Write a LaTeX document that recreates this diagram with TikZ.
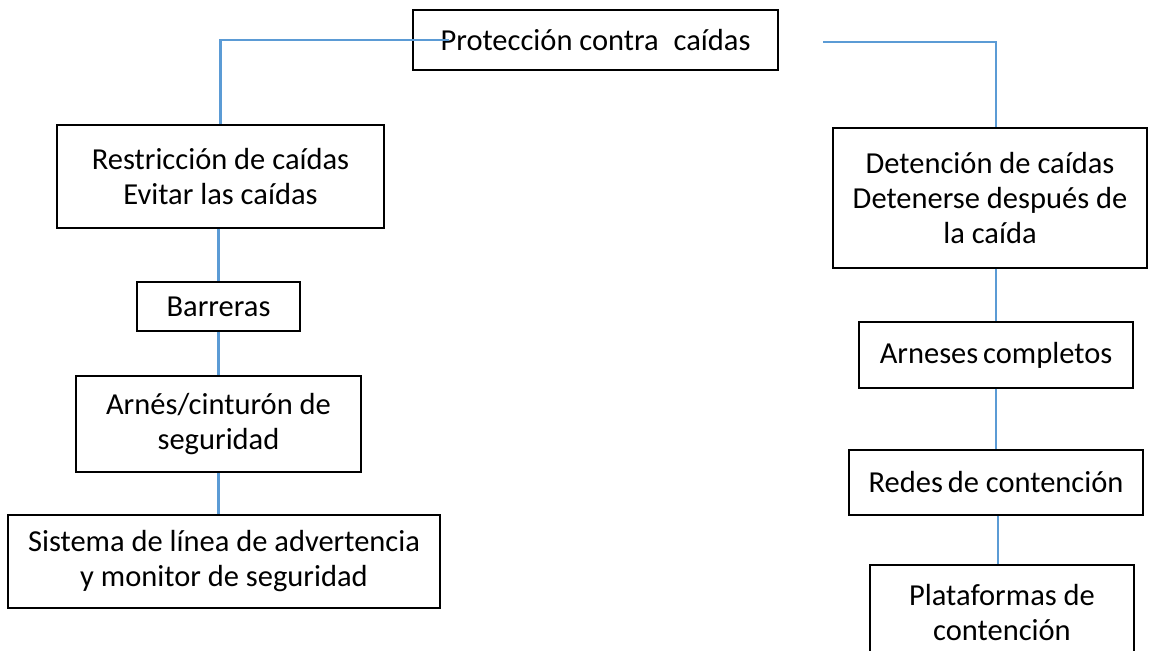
\documentclass[tikz,border=0pt]{standalone}
\usepackage{fontspec}
\setmainfont{Carlito}
\definecolor{linkblue}{RGB}{91,155,213}
\begin{document}
\begin{tikzpicture}[x=1pt,y=-1pt,
  box/.style={draw=black, line width=1.7pt, inner sep=0pt, align=center,
    font=\fontsize{30.5}{35}\selectfont},
  link/.style={draw=linkblue, line width=2.5pt}]
\useasboundingbox (0,0) rectangle (1158,650);
% left column
\node[box, minimum width=365pt, minimum height=60pt] (top) at (595.5,40) {Protección contra\hspace{8pt} caídas};
\node[box, minimum width=327pt, minimum height=103pt] (restr) at (220.5,176.5) {Restricción de caídas\\Evitar las caídas};
\node[box, minimum width=163pt, minimum height=49pt] (barr) at (218.5,306.5) {Barreras};
\node[box, minimum width=285pt, minimum height=96pt] (arnes) at (218.5,424) {Arnés/cinturón de\\seguridad};
\node[box, minimum width=432pt, minimum height=93pt] (sist) at (224,561.5) {Sistema de línea de advertencia\\y monitor de seguridad};
% right column
\node[box, minimum width=314pt, minimum height=140pt] (det) at (990,198) {Detención de caídas\\Detenerse después de\\la caída};
\node[box, minimum width=274pt, minimum height=66pt] (arneses) at (996,355) {Arneses\hspace{-2pt} completos};
\node[box, minimum width=294pt, minimum height=65pt] (redes) at (996,482.5) {Redes\hspace{-2pt} de contención};
\node[box, minimum width=264pt, minimum height=95pt] (plat) at (1002,612.5) {Plataformas de\\contención};
% connectors
\coordinate (tl) at (449,40);
\coordinate (tr) at (823,42);
\coordinate (trc) at (996,42);
\draw[link] (tl) -| (restr.north);
\draw[link] (tr) -- (trc) -- (trc |- det.north);
\draw[link] (barr.north |- restr.south) -- (barr.north);
\draw[link] (barr.south) -- (barr.south |- arnes.north);
\draw[link] (barr.south |- arnes.south) -- (barr.south |- sist.north);
\draw[link] (arneses.north |- det.south) -- (arneses.north);
\draw[link] (arneses.south) -- (redes.north);
\draw[link] ([xshift=2pt]redes.south) -- ([xshift=2pt]redes.south |- plat.north);
\end{tikzpicture}
\end{document}
